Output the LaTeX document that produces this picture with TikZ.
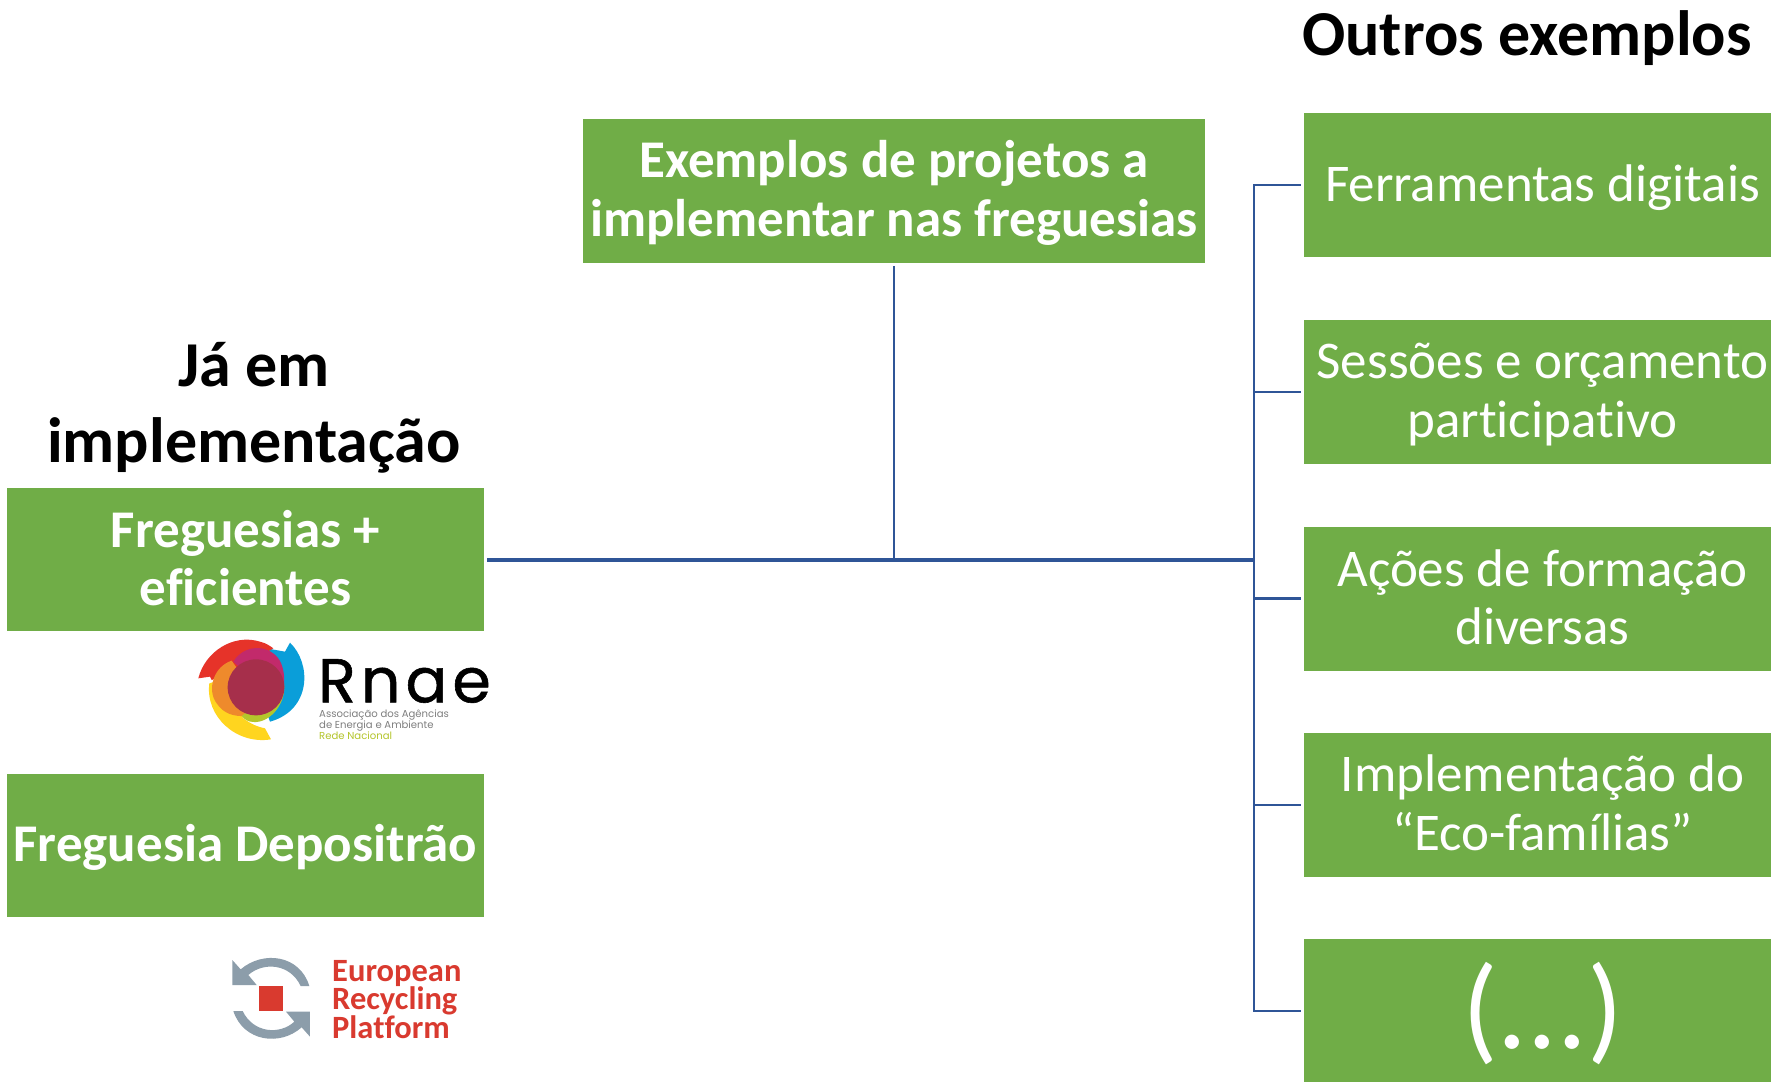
\documentclass[tikz,border=0pt]{standalone}
\usepackage{fontspec}
\setmainfont[Ligatures=NoCommon]{Carlito}
\newfontfamily\logofont[LetterSpace=8,FakeBold=0.9]{Poppins}
\newfontfamily\logosmall{Poppins}
\newsavebox{\liftbox}
\newcommand{\lift}[2]{\sbox{\liftbox}{\begin{tabular}{@{}c@{}}#2\end{tabular}}\raisebox{#1}[\ht\liftbox][\dp\liftbox]{\usebox{\liftbox}}}
\definecolor{boxgreen}{HTML}{70AD47}
\definecolor{linkblue}{HTML}{2F5597}
\definecolor{erpred}{HTML}{D93A2F}
\definecolor{erpgray}{HTML}{8C9DAA}
\definecolor{lgred}{HTML}{E63329}
\definecolor{lgblue}{HTML}{0A9ED9}
\definecolor{lgyellow}{HTML}{FFD51F}
\definecolor{lgorange}{HTML}{EE8A2C}
\definecolor{lgmag}{HTML}{C22A6B}
\definecolor{lgdark}{HTML}{A62F4B}
\definecolor{lggreen}{HTML}{B4C52B}
\definecolor{lgrey}{HTML}{7F7F7F}
\tikzset{
  greenbox/.style={fill=boxgreen,text=white,inner sep=0pt,align=center,font=\fontsize{53}{58.7}\selectfont},
  rightbox/.style={greenbox,minimum width=477pt,minimum height=144pt},
  leftbox/.style={greenbox,minimum width=477pt,minimum height=143pt},
  heading/.style={inner sep=0pt,align=center,text=black,font=\fontsize{64}{76.5}\selectfont\bfseries},
  thinlink/.style={draw=linkblue,line width=2.4pt},
  thicklink/.style={draw=linkblue,line width=4pt},
}
\begin{document}
\begin{tikzpicture}[x=1pt,y=-1pt]
\path[clip,use as bounding box] (0,0) rectangle (1771,1081);
\fill[white] (0,0) rectangle (1771,1081);

\node[heading] (houtros) at (1527,38) {Outros exemplos};
\node[heading] (hja) at (254,408) {Já em\\implementação};

\node[greenbox,minimum width=622pt,minimum height=144pt,font=\fontsize{53}{58.7}\selectfont\bfseries] (centro) at (894,191) {\lift{-4.3pt}{Exemplos de projetos a\\implementar nas freguesias}};

\node[rightbox] (r1) at (1542.5,185) {\lift{-5pt}{Ferramentas digitais}};
\node[rightbox] (r2) at (1542.5,392) {\lift{-4.3pt}{Sessões e orçamento\\participativo}};
\node[rightbox] (r3) at (1542.5,598.5) {\lift{-5.4pt}{Ações de formação\\diversas}};
\node[rightbox] (r4) at (1542.5,805) {\lift{-4.3pt}{Implementação do\\“Eco-famílias”}};
\node[rightbox] (r5) at (1542.5,1011) {\fontsize{118}{121}\selectfont\raisebox{-3pt}[\height][\depth]{(...)}};

\node[leftbox,font=\fontsize{53}{58.7}\selectfont\bfseries] (l1) at (245.5,559.5) {\lift{-5.4pt}{Freguesias +\\eficientes}};
\node[leftbox,font=\fontsize{53}{58.7}\selectfont\bfseries] (l2) at (245.5,845) {\lift{-5pt}{Freguesia Depositrão}};

\coordinate (bus) at (1254,559.5);
\draw[thicklink,shorten <=3pt] (l1.east) -- (bus);
\draw[thinlink,shorten <=3pt] (centro.south) -- (centro.south |- bus);
\draw[thinlink,line cap=rect] (bus |- r1.west) -- (bus |- r5.west);
\foreach \r in {r1,r2,r3,r4,r5}
  \draw[thinlink,shorten >=3pt] (bus |- \r.west) -- (\r.west);

% RNAE logo
\begin{scope}[shift={(170,620)},x=0.3333pt,y=-0.3333pt]
\fill[lgyellow] (118,190) .. controls (105,290) and (200,375) .. (303,358) -- (285,325) .. controls (260,320) and (240,310) .. (220,295) -- (150,180) -- cycle;
\fill[lgblue] (345,95) -- (360,68) .. controls (425,130) and (425,270) .. (300,305) -- (270,220) -- (290,85) -- cycle;
\fill[lgred] (85,175) .. controls (105,95) and (190,40) .. (270,65) .. controls (290,70) and (300,78) .. (310,85) -- (200,150) -- (125,180) -- (120,170) -- cycle;
\fill[lgorange] (185,122) .. controls (130,140) and (110,210) .. (140,250) .. controls (160,280) and (190,290) .. (225,288) -- (240,200) -- cycle;
\fill[lggreen] (342,190) .. controls (350,250) and (300,310) .. (250,306) .. controls (235,305) and (225,300) .. (215,288) -- (300,220) -- cycle;
\fill[lgmag] (190,125) .. controls (220,75) and (290,70) .. (325,115) .. controls (340,135) and (345,170) .. (342,200) -- (240,170) -- cycle;
\fill[lgdark] (258,202) ellipse [x radius=85,y radius=84];
\end{scope}
\node[anchor=west,inner sep=0pt,font=\logofont\fontsize{62}{62}\selectfont] (rnaeword) at (318,681) {Rnae};
\node[anchor=north west,inner sep=0pt,align=left,text=lgrey,font=\logosmall\fontsize{10.1}{11}\selectfont] (rnaesub) at (319,710) {Associação dos Agências\\de Energia e Ambiente\\\textcolor{lggreen}{Rede Nacional}};

% ERP logo
\begin{scope}[shift={(200,930)},x=0.3333pt,y=-0.3333pt]
\fill[erpgray] (97,90) -- (97,165) -- (170,165) -- (145,135) .. controls (190,95) and (270,100) .. (302,168) -- (328,168) .. controls (300,75) and (190,60) .. (122,118) -- cycle;
\fill[erpgray] (330,320) -- (330,245) -- (258,245) -- (283,275) .. controls (240,315) and (160,310) .. (128,243) -- (100,243) .. controls (130,335) and (240,350) .. (305,292) -- cycle;
\fill[erpred] (177,168) rectangle (250,243);
\end{scope}
\node[anchor=north west,inner sep=0pt,align=left,text=erpred,font=\fontsize{32.5}{28}\selectfont\bfseries] (erpword) at (332,960) {European\\Recycling\\Platform};
\end{tikzpicture}
\end{document}
